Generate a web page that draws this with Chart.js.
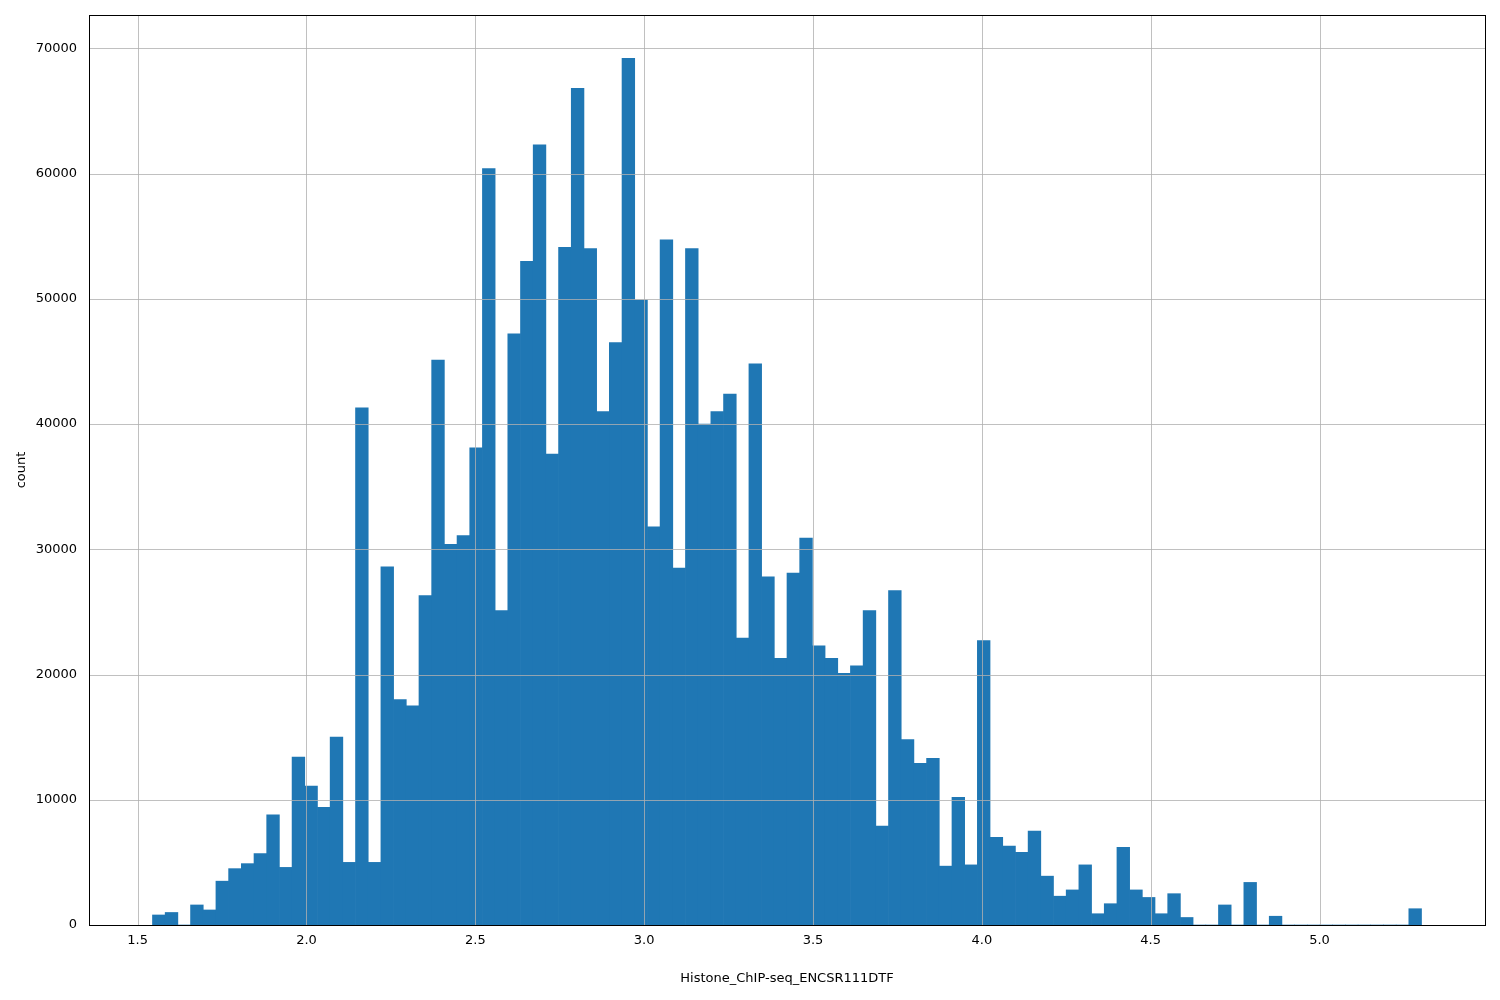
<!DOCTYPE html>
<html>
<head>
<meta charset="utf-8">
<script src="https://cdn.jsdelivr.net/npm/chart.js@4"></script>
<style>
  html, body { margin: 0; padding: 0; background: #fff; }
  #wrap { width: 1500px; height: 1000px; }
</style>
</head>
<body>
<div id="wrap"><canvas id="hist"></canvas></div>
<script>
// histogram: 100 equal bins
const BIN_START = 1.544;
const BIN_WIDTH = 0.03758;
const COUNTS = [
  800, 1000, 0, 1600, 1200, 3500, 4500, 4900, 5700, 8800,
  4600, 13400, 11100, 9400, 15000, 5000, 41300, 5000, 28600, 18000,
  17500, 26300, 45100, 30400, 31100, 38100, 60400, 25100, 47200, 53000,
  62300, 37600, 54100, 66800, 54000, 41000, 46500, 69200, 49900, 31800,
  54700, 28500, 54000, 40000, 41000, 42400, 22900, 44800, 27800, 21300,
  28100, 30900, 22300, 21300, 20100, 20700, 25100, 7900, 26700, 14800,
  12900, 13300, 4700, 10200, 4800, 22700, 7000, 6300, 5800, 7500,
  3900, 2300, 2800, 4800, 900, 1700, 6200, 2800, 2200, 900,
  2500, 600, 0, 0, 1600, 0, 3400, 0, 700, 0,
  0, 0, 0, 0, 0, 0, 0, 0, 0, 1300
];
const X_TICKS = [1.5, 2.0, 2.5, 3.0, 3.5, 4.0, 4.5, 5.0];
const Y_TICKS = [0, 10000, 20000, 30000, 40000, 50000, 60000, 70000];
const X_LABEL = "Histone_ChIP-seq_ENCSR111DTF";
const Y_LABEL = "count";

const points = COUNTS.map((c, i) => ({ x: BIN_START + BIN_WIDTH * (i + 0.5), y: c }));

// matplotlib draws grid above the bars
const gridOnTop = {
  id: "gridOnTop",
  afterDatasetsDraw(chart) {
    const { ctx, chartArea: a, scales } = chart;
    ctx.save();
    ctx.strokeStyle = "#b0b0b0";
    ctx.lineWidth = 0.8;
    X_TICKS.forEach(v => {
      const px = Math.round(scales.x.getPixelForValue(v)) + 0.5;
      ctx.beginPath(); ctx.moveTo(px, a.top); ctx.lineTo(px, a.bottom); ctx.stroke();
    });
    Y_TICKS.forEach(v => {
      const py = Math.round(scales.y.getPixelForValue(v)) + 0.5;
      ctx.beginPath(); ctx.moveTo(a.left, py); ctx.lineTo(a.right, py); ctx.stroke();
    });
    ctx.strokeStyle = "#000";
    ctx.lineWidth = 1;
    ctx.strokeRect(a.left + 0.5, a.top + 0.5, a.right - a.left, a.bottom - a.top);
    ctx.restore();
  }
};

Chart.defaults.font.family = "'DejaVu Sans', sans-serif";
Chart.defaults.font.size = 13;
Chart.defaults.color = "#000";

new Chart(document.getElementById("hist"), {
  type: "bar",
  data: {
    datasets: [{
      data: points,
      backgroundColor: "#1f77b4",
      barPercentage: 1,
      categoryPercentage: 1,
      borderWidth: 0
    }]
  },
  options: {
    responsive: true,
    maintainAspectRatio: false,
    animation: false,
    layout: { padding: { top: 15, right: 15, left: 10, bottom: 10 } },
    plugins: { legend: { display: false }, tooltip: { enabled: false } },
    scales: {
      x: {
        type: "linear",
        offset: false,
        min: 1.356,
        max: 5.49,
        afterBuildTicks: s => { s.ticks = X_TICKS.map(v => ({ value: v })); },
        afterFit: s => { s.height = 65; },
        ticks: { callback: v => v.toFixed(1), maxRotation: 0, padding: 4 },
        grid: { display: false, drawTicks: true, tickLength: 4 },
        border: { display: false },
        title: { display: true, text: X_LABEL, padding: { top: 20 } }
      },
      y: {
        min: 0,
        max: 72660,
        afterBuildTicks: s => { s.ticks = Y_TICKS.map(v => ({ value: v })); },
        afterFit: s => { s.width = 79; },
        ticks: { callback: v => String(v), padding: 4 },
        grid: { display: false },
        border: { display: false },
        title: { display: true, text: Y_LABEL, padding: { bottom: 4 } }
      }
    }
  },
  plugins: [gridOnTop]
});
</script>
</body>
</html>
